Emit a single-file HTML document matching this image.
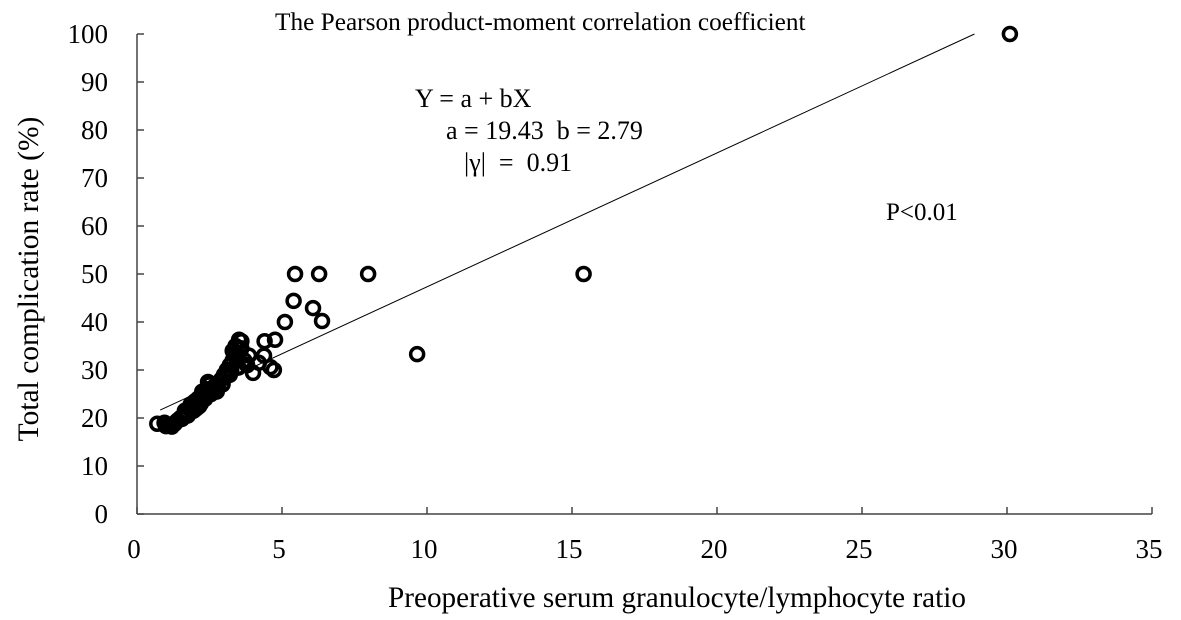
<!DOCTYPE html>
<html><head><meta charset="utf-8"><style>
body{margin:0;background:#fff;}
svg{display:block;font-family:"Liberation Serif",serif;}
text{white-space:pre;}
</style></head><body>
<svg id="chart" width="1181" height="620"></svg>
<script>
const xTicks=[0,5,10,15,20,25,30,35];
const yTicks=[0,10,20,30,40,50,60,70,80,90,100];
const xs=[30.1,15.4,9.66,5.45,6.28,7.97,5.4,6.07,6.38,5.1,4.76,4.4,4.38,4.0,4.6,4.72,3.48,3.86,3.52,
0.7,0.95,1.1,1.2,1.3,1.4,1.5,1.6,1.7,1.8,1.9,2.0,2.1,2.2,2.3,2.4,2.5,2.45,2.6,2.7,2.8,2.9,3.0,3.1,3.2,3.3,3.3,3.4,3.5,3.6,3.7,3.8,3.5,3.2,2.8,2.2,1.9,3.4,3.6,4.2,
1.0,1.15,1.35,1.55,1.75,1.95,2.15,2.35,2.55,2.75,2.95,3.15,3.35,3.25,3.45,2.05,2.5,2.65,3.05,1.65,1.85,2.25];
const ys=[100,50,33.3,50,50,50,44.4,42.9,40.2,40,36.3,36,33,29.4,30.6,30,30.6,33,36.3,
18.8,19,18.5,18.2,18.8,19.5,20,20.5,21,22,23,23.5,24,24.5,25,26,27,27.5,25.5,26,27,28,29,30,31,32,34,35,33,34.5,32,31,30.5,29,26.5,23,22,33.5,36,31.5,
18.3,18.5,19.2,19.8,20.5,21.5,22.5,24,25,25.5,27,29.5,33,30,32,22,25.8,26.5,28.5,21.5,22.8,25.5];
const coefA=19.43, coefB=2.79;
const svg=document.getElementById('chart');
const NS='http://www.w3.org/2000/svg';
const X=v=>137+v*29, Y=v=>514-v*4.8;
function mk(t,a,txt){const e=document.createElementNS(NS,t);for(const k in a)e.setAttribute(k,a[k]);if(txt!==undefined)e.textContent=txt;svg.appendChild(e);return e;}
let e;
e=mk('line',{x1:137,y1:34,x2:137,y2:514,stroke:'#444','stroke-width':1.5});


e=mk('line',{x1:137,y1:514,x2:1152,y2:514,stroke:'#444','stroke-width':1.5});


yTicks.forEach(v=>{
 e=mk('line',{x1:137,y1:Y(v),x2:144,y2:Y(v),stroke:'#444','stroke-width':1.5});
 
 
 e=mk('text',{x:108,y:Y(v)+9,'text-anchor':'end','font-size':27},v);
 
 
});
xTicks.forEach(v=>{
 e=mk('line',{x1:X(v),y1:507,x2:X(v),y2:514,stroke:'#444','stroke-width':1.5});
 
 
 e=mk('text',{x:X(v)-3,y:558,'text-anchor':'middle','font-size':27},v);
 
 
});
const x0=0.8, x1=(100-coefA)/coefB;
e=mk('line',{x1:X(x0),y1:Y(coefA+coefB*x0),x2:X(x1),y2:Y(coefA+coefB*x1),stroke:'#000','stroke-width':1});


xs.forEach((x,i)=>{
 e=mk('circle',{cx:X(x),cy:Y(ys[i]),r:6.5,fill:'none',stroke:'#000','stroke-width':3.5});
 
 
});
const texts=[[275,30,'The Pearson product-moment correlation coefficient','annotation-title',25.3],
[415,107,'Y = a + bX','equation',26],[446,139,'a = 19.43  b = 2.79','coefficients',26],
[464,171,'|γ|  =  0.91','correlation-value',26],[886,220,'P<0.01','p-value',25]];
texts.forEach(t=>{
 e=mk('text',{x:t[0],y:t[1],'font-size':t[4]},t[2]);
 
 
});
e=mk('text',{x:677,y:607,'text-anchor':'middle','font-size':29.2},'Preoperative serum granulocyte/lymphocyte ratio');


e=mk('text',{x:0,y:0,'text-anchor':'middle','font-size':29.5,transform:'translate(38,279) rotate(-90)'},'Total complication rate (%)');


</script>
</body></html>
